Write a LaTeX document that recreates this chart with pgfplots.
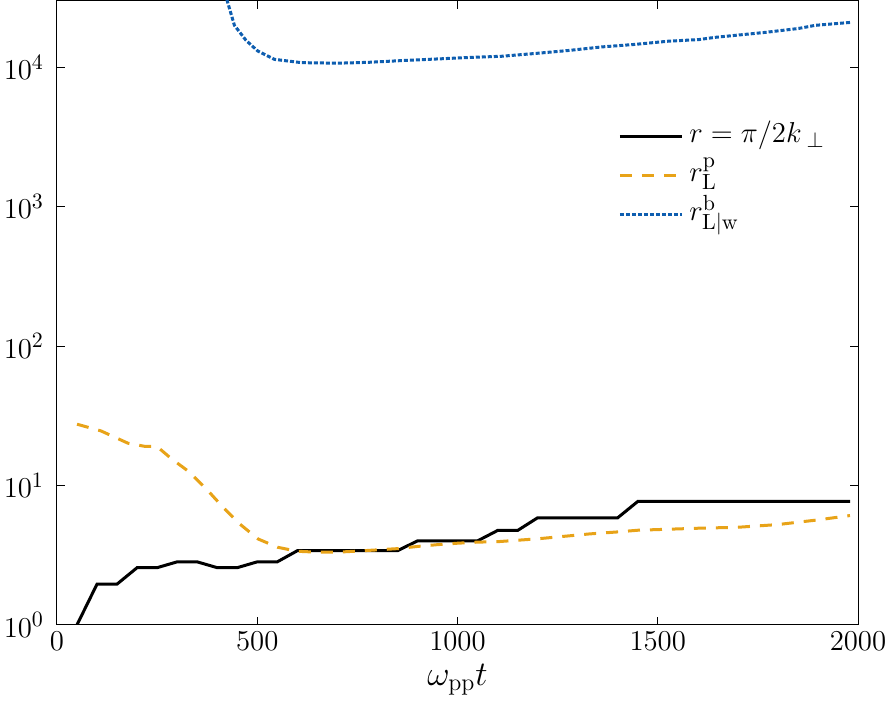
\documentclass[border=0pt]{standalone}
\usepackage{pgfplots}
\pgfplotsset{compat=1.18}
\definecolor{orangeM}{RGB}{232,163,24}
\definecolor{blueM}{RGB}{14,94,176}
\begin{document}
\begin{tikzpicture}
\begin{axis}[
  name=ax,
  scale only axis,
  width=400.5pt, height=312pt,
  xmin=0, xmax=2000, ymin=1, ymax=3e4,
  ymode=log,
  xtick={0,500,1000,1500,2000},
  ytick={1,10,100,1000,10000},
  log basis y=10,
  /pgf/number format/1000 sep={},
  tick align=inside,
  xtick pos=both, ytick pos=both,
  major tick length=4pt, minor tick length=2.5pt,
  axis line style={line width=0.5pt},
  every tick/.style={black, line width=0.5pt},
  tick label style={font=\fontsize{15.6}{18}\selectfont},
  yticklabel style={xshift=-3pt},
  label style={font=\fontsize{17}{20}\selectfont},
  xlabel={$\omega_{\mathrm{pp}}t$},
  legend image code/.code={\draw[#1] (0pt,0pt) -- (31pt,0pt);},
  legend cell align=left,
  legend style={draw=none, fill=none, inner sep=0pt, row sep=1pt,
    font=\fontsize{15}{18}\selectfont,
    at={(rel axis cs:0.7004,0.8133)}, anchor=north west,
    nodes={inner xsep=3pt, inner ysep=0pt, text height=12.45pt, text depth=6.05pt, anchor=west}},
]
\addplot[black, line width=1.5pt] coordinates {
(50,1) (100,1.96) (150,1.96) (200,2.57) (250,2.57) (300,2.83) (350,2.83) (400,2.57) (450,2.57) (500,2.83) (550,2.83) (600,3.4) (850,3.4) (900,4.0) (1050,4.0) (1100,4.75) (1150,4.75) (1200,5.86) (1400,5.86) (1450,7.67) (1980,7.67)
};
\addlegendentry{$r = \pi/2k\,{}_{\perp}$}
\addplot[orangeM, line width=1.5pt, dash pattern=on 6pt off 5pt] coordinates {
(50,27.5) (110,24.6) (177,20.1) (218,19.1) (250,19.0) (285,15.6) (327,12.7) (372,9.5) (414,7.0) (456,5.3) (502,4.13) (551,3.6) (600,3.37) (650,3.32) (700,3.32) (750,3.38) (800,3.45) (850,3.52) (900,3.65) (950,3.76) (1000,3.85) (1050,3.92) (1100,3.95) (1200,4.14) (1330,4.49) (1400,4.64) (1450,4.77) (1600,4.93) (1700,5.01) (1800,5.24) (1900,5.66) (1980,6.08)
};
\addlegendentry{$r_{\mathrm{L}}^{\mathrm{p}}$}
\addplot[blueM, line width=1.5pt, dash pattern=on 2pt off 1pt] coordinates {
(410,4.5e4) (425,3.0e4) (443,2.0e4) (472,1.56e4) (501,1.31e4) (543,1.14e4) (610,1.08e4) (700,1.07e4) (776,1.085e4) (860,1.117e4) (1027,1.175e4) (1110,1.2e4) (1193,1.256e4) (1277,1.32e4) (1360,1.4e4) (1443,1.46e4) (1527,1.54e4) (1602,1.58e4) (1643,1.64e4) (1768,1.78e4) (1852,1.90e4) (1893,2.0e4) (1982,2.1e4)
};
\addlegendentry{$r_{\mathrm{L|w}}^{\mathrm{b}}$}
\end{axis}
\pgfresetboundingbox
\path[use as bounding box] ([xshift=-28.5pt,yshift=-47pt]ax.south west) rectangle ([xshift=17pt,yshift=0.4pt]ax.north east);
\end{tikzpicture}
\end{document}
